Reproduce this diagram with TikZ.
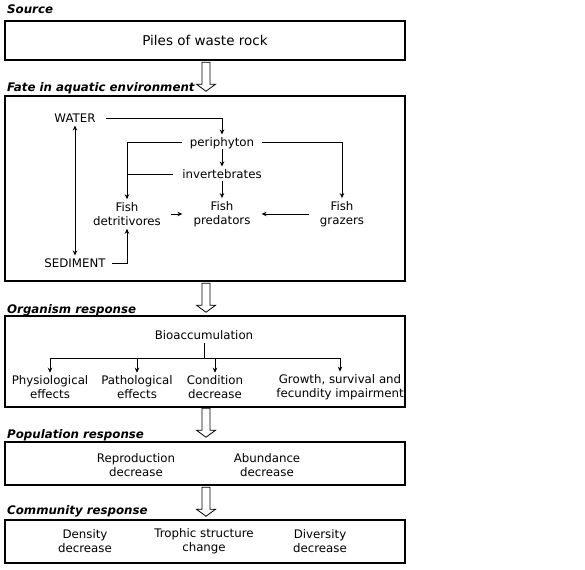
\documentclass[tikz,border=0pt]{standalone}
\usepackage{fontspec}
\setmainfont{DejaVu Sans}
\usetikzlibrary{arrows.meta,calc}
\tikzset{
  txt/.style={font=\fontsize{11.8}{14}\selectfont, align=center, inner sep=3pt},
  one/.style={txt, text height=8.6pt, text depth=0pt},
  head/.style={font=\fontsize{11.8}{14}\selectfont\bfseries\itshape, anchor=west, inner sep=2pt, text height=8.6pt, text depth=0pt},
  panel/.style={draw, line width=1.5pt, minimum width=400pt, inner sep=0pt},
  flow/.style={-{Stealth[length=5pt,width=4.5pt]}, line width=0.8pt},
  both/.style={{Stealth[length=5pt,width=4.5pt]}-{Stealth[length=5pt,width=4.5pt]}, line width=0.8pt},
  pics/downarrow/.style={code={
    \draw[line width=0.8pt] (-4,0) -- (4,0) -- (4,22) -- (9.5,22) -- (0,29) -- (-9.5,22) -- (-4,22) -- cycle;
  }}
}
\begin{document}
\begin{tikzpicture}[x=1pt, y=-1pt]
    \useasboundingbox (0,0) rectangle (585,569);
    % panels
    \node[panel, minimum height=39pt, font=\fontsize{13.5}{16}\selectfont] (src) at (205,40.5) {Piles of waste rock};
    \node[panel, minimum height=185pt] (fate) at (205,188.5) {};
    \node[panel, minimum height=91pt] (org) at (205,361.5) {};
    \node[panel, minimum height=43pt] (pop) at (205,463.5) {};
    \node[panel, minimum height=43pt] (com) at (205,541.5) {};
    % headings
    \node[head] (hsrc) at (5,9) {Source};
    \node[head] (hfate) at (5,87) {Fate in aquatic environment};
    \node[head] (horg) at (5,309) {Organism response};
    \node[head] (hpop) at (5,434) {Population response};
    \node[head] (hcom) at (5,510) {Community response};
    % hollow arrows
    \pic at ($(fate.north)+(1,-33)$) {downarrow};
    \pic at ($(org.north)+(1,-32)$) {downarrow};
    \pic at ($(pop.north)+(1,-33)$) {downarrow};
    \pic at ($(com.north)+(1,-32)$) {downarrow};
    % fate in aquatic environment
    \node[one, inner xsep=10pt] (water) at (75,118) {WATER};
    \node[one, inner xsep=8pt] (peri) at (222,142) {periphyton};
    \node[one, inner xsep=9pt] (inv) at (222,174) {invertebrates};
    \node[txt, inner xsep=10pt] (fdet) at (127,214) {Fish\\detritivores};
    \node[txt, inner xsep=11pt] (fpred) at (222,214) {Fish\\predators};
    \node[txt, inner xsep=11pt] (fgraz) at (342,214) {Fish\\grazers};
    \node[one, inner xsep=6pt] (sed) at (75,263) {SEDIMENT};
    \draw[flow] (water.east) -| (peri.north);
    \draw[flow] (peri.west) -| (fdet.north);
    \draw[flow] (peri.east) -| (fgraz.north);
    \draw[flow] (peri.south) -- (inv.north);
    \draw[line width=0.8pt] (inv.west) -- (inv.west -| fdet.north);
    \draw[flow] (inv.south) -- (fpred.north);
    \draw[flow] (fdet.east) -- (fpred.west);
    \draw[flow] (fgraz.west) -- (fpred.east);
    \draw[both] (water.south) -- (sed.north);
    \draw[flow] (sed.east) -| (fdet.south);
    % organism response
    \node[one] (bio) at (204,335) {Bioaccumulation};
    \coordinate (split) at (204,358);
    \node[txt] (physio) at (50,387.5) {Physiological\\effects};
    \node[txt] (patho) at (137,387.5) {Pathological\\effects};
    \node[txt] (cond) at (215,387.5) {Condition\\decrease};
    \node[txt] (growth) at (340,387.5) {Growth, survival and\\fecundity impairment};
    \draw[line width=0.8pt] (bio.south) -- (split);
    \draw[line width=0.8pt] (physio.north |- split) -- (growth.north |- split);
    \foreach \n in {physio,patho,cond,growth}
        \draw[flow] (\n.north |- split) -- (\n.north);
    % population response
    \node[txt] (repro) at (136,465.5) {Reproduction\\decrease};
    \node[txt] (abund) at (267,465.5) {Abundance\\decrease};
    % community response
    \node[txt] (dens) at (85,541.5) {Density\\decrease};
    \node[txt] (troph) at (204,541.5) {Trophic structure\\change};
    \node[txt] (divers) at (320,541.5) {Diversity\\decrease};
\end{tikzpicture}
\end{document}
